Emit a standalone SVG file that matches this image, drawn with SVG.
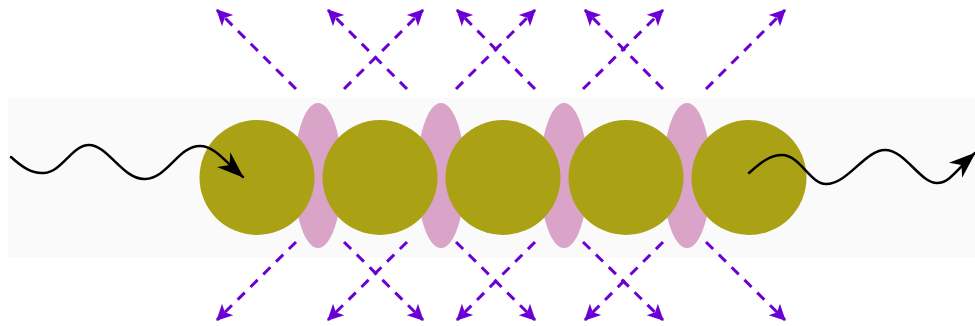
<svg xmlns="http://www.w3.org/2000/svg" width="975" height="326" viewBox="0 0 975 326">
<style>
.band{fill:#fafafa}
.pink{fill:#daa3c8}
.olive{fill:#aba114}
.ray{fill:none;stroke:#6a00d4;stroke-width:3;stroke-dasharray:10 8;marker-end:url(#pa)}
.wave{fill:none;stroke:#000;stroke-width:2.5;stroke-linecap:round;marker-end:url(#ba)}
</style>
<defs>
<marker id="pa" viewBox="-18 -10 20 20" refX="0" refY="0" markerWidth="20" markerHeight="20" markerUnits="userSpaceOnUse" orient="auto">
<path d="M1,0 L-15,-8 L-11,0 L-15,8 z" fill="#6a00d4"/>
</marker>
<marker id="ba" viewBox="-28 -12 30 24" refX="0" refY="0" markerWidth="30" markerHeight="24" markerUnits="userSpaceOnUse" orient="auto">
<path d="M1,0 L-26,-10 L-18,0 L-26,10 z" fill="#000"/>
</marker>
</defs>
<rect class="band" x="8" y="98" width="967" height="159"/>
<g id="gap1"><ellipse class="pink" cx="318" cy="175.5" rx="24" ry="72.5"/></g>
<g id="gap2"><ellipse class="pink" cx="441" cy="175.5" rx="24" ry="72.5"/></g>
<g id="gap3"><ellipse class="pink" cx="564" cy="175.5" rx="24" ry="72.5"/></g>
<g id="gap4"><ellipse class="pink" cx="687" cy="175.5" rx="24" ry="72.5"/></g>
<g id="sphere1"><circle class="olive" cx="257" cy="177.5" r="57.5"/></g>
<g id="sphere2"><circle class="olive" cx="380" cy="177.5" r="57.5"/></g>
<g id="sphere3"><circle class="olive" cx="503" cy="177.5" r="57.5"/></g>
<g id="sphere4"><circle class="olive" cx="626" cy="177.5" r="57.5"/></g>
<g id="sphere5"><circle class="olive" cx="749" cy="177.5" r="57.5"/></g>
<g id="connectors">
<path class="wave" d="M11,157 C22,167 32,174 44,173 C62,172 72,145 89,145 C108,145 123,180 145,179 C168,178 178,146 200,146 C214,146 224,160 243,177"/>
<path class="wave" d="M749,173 C760,163 770,155 782,155 C800,155 810,184 826,184 C848,184 865,150 885,150 C905,150 920,183 937,183 C950,183 958,168 975,153"/>
<line class="ray" x1="296" y1="89" x2="217" y2="10"/>
<line class="ray" x1="344" y1="89" x2="423" y2="10"/>
<line class="ray" x1="407" y1="89" x2="328" y2="10"/>
<line class="ray" x1="456" y1="89" x2="535" y2="10"/>
<line class="ray" x1="535" y1="89" x2="457" y2="10"/>
<line class="ray" x1="583" y1="89" x2="663" y2="10"/>
<line class="ray" x1="663" y1="89" x2="585" y2="10"/>
<line class="ray" x1="706" y1="89" x2="785" y2="10"/>
<line class="ray" x1="296" y1="242" x2="217" y2="320"/>
<line class="ray" x1="344" y1="242" x2="423" y2="320"/>
<line class="ray" x1="407" y1="242" x2="328" y2="320"/>
<line class="ray" x1="456" y1="242" x2="535" y2="320"/>
<line class="ray" x1="535" y1="242" x2="457" y2="320"/>
<line class="ray" x1="583" y1="242" x2="663" y2="320"/>
<line class="ray" x1="663" y1="242" x2="585" y2="320"/>
<line class="ray" x1="706" y1="242" x2="785" y2="320"/>
</g>
</svg>
